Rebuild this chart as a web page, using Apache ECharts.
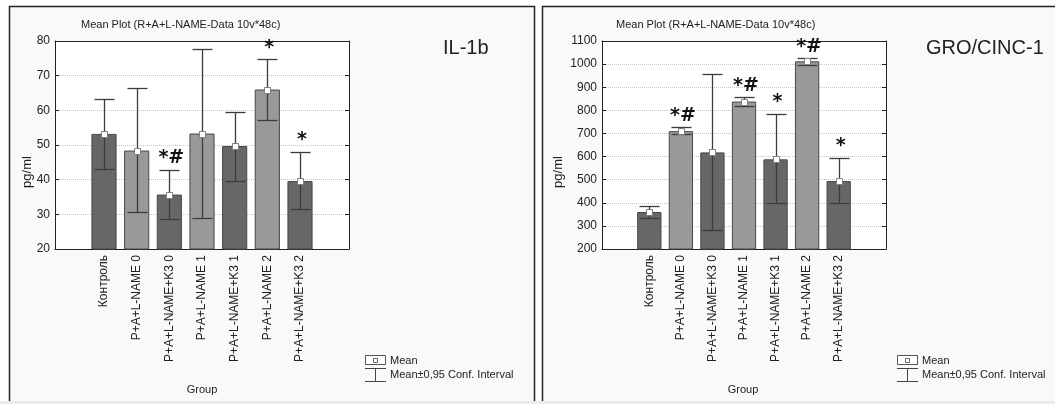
<!DOCTYPE html>
<html>
<head>
<meta charset="utf-8">
<script src="https://cdn.jsdelivr.net/npm/echarts@6/dist/echarts.min.js"></script>
<style>
  body { margin: 0; background: #fff; }
  #chart { width: 1055px; height: 404px; }
</style>
</head>
<body>
<div id="chart"></div>
<script>
  // группы по оси X
  var groups = ['Контроль', 'P+A+L-NAME 0', 'P+A+L-NAME+K3 0', 'P+A+L-NAME 1', 'P+A+L-NAME+K3 1', 'P+A+L-NAME 2', 'P+A+L-NAME+K3 2'];

  // IL-1b
  var il1bMean = [53.2, 48.4, 35.7, 53.3, 49.7, 66.0, 39.6];
  var il1bLow = [43.1, 30.6, 28.7, 29.0, 39.7, 57.1, 31.5];
  var il1bHigh = [63.3, 66.4, 42.8, 77.8, 59.4, 74.7, 48.1];
  var il1bMarks = ['', '', '*#', '', '', '*', '*'];
  var il1bTicks = { min: 20, max: 80, step: 10 };

  // GRO/CINC-1
  var groMean = [360, 710, 618, 838, 588, 1012, 494];
  var groLow = [336, 697, 284, 818, 397, 998, 397];
  var groHigh = [385, 727, 957, 856, 784, 1025, 595];
  var groMarks = ['', '*#', '', '*#', '*', '*#', '*'];
  var groTicks = { min: 200, max: 1100, step: 100 };

  var FONT = '"Liberation Sans", Arial, sans-serif';
  var DARK = '#676767';
  var LIGHT = '#999999';

  var cats = [''].concat(groups, ['']);

  var myChart = echarts.init(document.getElementById('chart'));

  var grids = [
    { left: 55, top: 41, width: 294, height: 208, show: true, backgroundColor: '#fff', borderWidth: 0 },
    { left: 602, top: 41, width: 284, height: 208, show: true, backgroundColor: '#fff', borderWidth: 0 }
  ];

  var xAxes = [];
  var yAxes = [];
  var series = [];

  function addPanel(gi, mean, low, high, marks, ticks) {
    // нижняя и верхняя ось X
    xAxes.push({
      type: 'category', gridIndex: gi, position: 'bottom', data: cats,
      axisLine: { lineStyle: { color: '#222', width: 1 } },
      axisTick: { inside: true, length: 4, alignWithLabel: true, lineStyle: { color: '#222' } },
      axisLabel: { rotate: 90, margin: 6, fontSize: 12, color: '#222', fontFamily: FONT, interval: 0 }
    });
    xAxes.push({
      type: 'category', gridIndex: gi, position: 'top', data: cats,
      axisLine: { lineStyle: { color: '#222', width: 1 } },
      axisTick: { inside: true, length: 4, alignWithLabel: true, lineStyle: { color: '#222' } },
      axisLabel: { show: false }
    });
    // левая и правая ось Y
    yAxes.push({
      type: 'value', gridIndex: gi, position: 'left', min: ticks.min, max: ticks.max, interval: ticks.step,
      axisLine: { show: true, lineStyle: { color: '#222', width: 1 } },
      axisTick: { show: true, inside: true, length: 4, lineStyle: { color: '#222' } },
      axisLabel: { fontSize: 12, color: '#222', fontFamily: FONT, margin: 5, formatter: function (v) { return String(v); } },
      splitLine: { show: true, lineStyle: { type: 'dotted', color: '#c4c4c4' } }
    });
    yAxes.push({
      type: 'value', gridIndex: gi, position: 'right', min: ticks.min, max: ticks.max, interval: ticks.step,
      axisLine: { show: true, lineStyle: { color: '#222', width: 1 } },
      axisTick: { show: true, inside: true, length: 4, lineStyle: { color: '#222' } },
      axisLabel: { show: false },
      splitLine: { show: false }
    });

    var xi = gi * 2;
    var yi = gi * 2;

    series.push({
      type: 'bar', xAxisIndex: xi, yAxisIndex: yi, barWidth: '77%',
      data: mean.map(function (v, i) {
        return { value: [i + 1, v], itemStyle: { color: i % 2 ? LIGHT : DARK } };
      }),
      itemStyle: { borderColor: '#484848', borderWidth: 1 },
      emphasis: { disabled: true },
      z: 2
    });

    // доверительный интервал + маркер среднего
    series.push({
      type: 'custom', xAxisIndex: xi, yAxisIndex: yi, clip: false, z: 3,
      data: mean.map(function (v, i) { return [i + 1, low[i], high[i], v]; }),
      renderItem: function (params, api) {
        var lo = api.coord([api.value(0), api.value(1)]);
        var hi = api.coord([api.value(0), api.value(2)]);
        var m = api.coord([api.value(0), api.value(3)]);
        var x = Math.round(lo[0]) + 0.5;
        var yl = Math.round(lo[1]) + 0.5;
        var yh = Math.round(hi[1]) + 0.5;
        var st = { stroke: '#3c3c3c', lineWidth: 1.3 };
        return {
          type: 'group',
          children: [
            { type: 'line', shape: { x1: x, y1: yh, x2: x, y2: yl }, style: st },
            { type: 'line', shape: { x1: x - 10, y1: yh, x2: x + 10, y2: yh }, style: st },
            { type: 'line', shape: { x1: x - 10, y1: yl, x2: x + 10, y2: yl }, style: st },
            { type: 'rect', shape: { x: x - 3, y: Math.round(m[1]) - 2.5, width: 6, height: 6 },
              style: { fill: '#fff', stroke: '#808080', lineWidth: 1 } }
          ]
        };
      }
    });

    // значимость (* и #)
    series.push({
      type: 'custom', xAxisIndex: xi, yAxisIndex: yi, clip: false, z: 4,
      data: mean.map(function (v, i) { return [i + 1, high[i]]; }),
      renderItem: function (params, api) {
        var txt = marks[params.dataIndex];
        if (!txt) return null;
        var p = api.coord([api.value(0), api.value(1)]);
        return {
          type: 'text', x: p[0] + 2, y: p[1] - 2,
          style: { text: txt, fill: '#111', font: 'bold 19px "DejaVu Sans", sans-serif', align: 'center', verticalAlign: 'bottom' }
        };
      }
    });
  }

  addPanel(0, il1bMean, il1bLow, il1bHigh, il1bMarks, il1bTicks);
  addPanel(1, groMean, groLow, groHigh, groMarks, groTicks);

  function txt(x, y, s, size, opt) {
    var o = {
      type: 'text', x: x, y: y, z: 10,
      style: { text: s, fill: '#222', font: size + 'px ' + FONT, align: 'left', verticalAlign: 'middle' }
    };
    if (opt) {
      for (var k in opt) o.style[k] = opt[k];
    }
    return o;
  }

  function legend(x, y) {
    var ln = { stroke: '#444', lineWidth: 1 };
    return [
      { type: 'rect', z: 10, shape: { x: x + 0.5, y: y + 0.5, width: 20, height: 9 }, style: { fill: '#fff', stroke: '#555', lineWidth: 1 } },
      { type: 'rect', z: 10, shape: { x: x + 8.5, y: y + 3.5, width: 4, height: 4 }, style: { fill: '#fff', stroke: '#666', lineWidth: 1 } },
      { type: 'line', z: 10, shape: { x1: x, y1: y + 13.5, x2: x + 21, y2: y + 13.5 }, style: ln },
      { type: 'line', z: 10, shape: { x1: x + 10.5, y1: y + 13.5, x2: x + 10.5, y2: y + 26.5 }, style: ln },
      { type: 'line', z: 10, shape: { x1: x, y1: y + 26.5, x2: x + 21, y2: y + 26.5 }, style: ln },
      txt(x + 25, y + 6, 'Mean', 11),
      txt(x + 25, y + 20, 'Mean±0,95 Conf. Interval', 11)
    ];
  }

  var graphics = [
    // фон панелей
    { type: 'rect', z: -10, shape: { x: 9.5, y: 6.5, width: 525, height: 400 }, style: { fill: '#f9f9f9', stroke: '#222', lineWidth: 1.5 } },
    { type: 'rect', z: -10, shape: { x: 542.5, y: 6.5, width: 520, height: 400 }, style: { fill: '#f9f9f9', stroke: '#222', lineWidth: 1.5 } },
    { type: 'rect', z: -9, shape: { x: 0, y: 401, width: 1055, height: 3 }, style: { fill: '#ebebeb' } },

    txt(81, 25, 'Mean Plot (R+A+L-NAME-Data 10v*48c)', 11),
    txt(616, 25, 'Mean Plot (R+A+L-NAME-Data 10v*48c)', 11),
    txt(443, 48, 'IL-1b', 20),
    txt(926, 48, 'GRO/CINC-1', 20),
    txt(27, 172, 'pg/ml', 13, { align: 'center' }),
    txt(558, 172, 'pg/ml', 13, { align: 'center' }),
    txt(202, 390, 'Group', 11, { align: 'center' }),
    txt(743, 390, 'Group', 11, { align: 'center' })
  ];
  graphics[7].rotation = Math.PI / 2;
  graphics[8].rotation = Math.PI / 2;
  graphics = graphics.concat(legend(365, 355), legend(897, 355));

  var options = {
    animation: false,
    textStyle: { fontFamily: FONT },
    grid: grids,
    xAxis: xAxes,
    yAxis: yAxes,
    series: series,
    graphic: { elements: graphics }
  };
  myChart.setOption(options);
</script>
</body>
</html>
